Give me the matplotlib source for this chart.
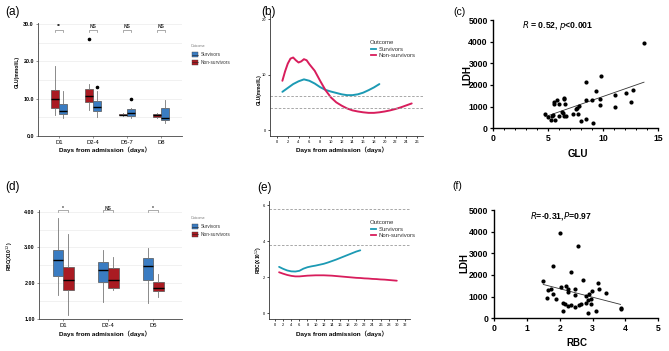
import numpy as np
import matplotlib
matplotlib.use('Agg')
import matplotlib.pyplot as plt
from matplotlib.patches import Rectangle
from matplotlib.lines import Line2D

plt.rcParams['font.family'] = ['Liberation Sans', 'Noto Sans CJK SC', 'DejaVu Sans']

W, H = 669, 351

# ---- data ----
glu_days = ['D1', 'D2-4', 'D5-7', 'D8']
# [whislo, q1, med, q3, whishi]
glu_non = [[5.5, 7.5, 9.8, 12.3, 18.9],
           [7.0, 9.0, 10.7, 12.6, 14.0],
           [5.4, 5.5, 5.7, 5.9, 6.0],
           [4.9, 5.1, 5.5, 5.9, 6.1]]
glu_non_out = [[], [26.0], [], []]
glu_surv = [[4.8, 5.9, 6.7, 8.6, 12.1],
            [5.0, 6.6, 7.8, 9.4, 12.0],
            [4.9, 5.2, 6.1, 7.2, 7.5],
            [3.5, 4.2, 4.8, 7.5, 9.6]]
glu_surv_out = [[], [13.1], [10.0], []]
glu_sig = ['**', 'NS', 'NS', 'NS']

rbc_days = ['D1', 'D2-4', 'D5']
rbc_surv = [[1.66, 2.21, 2.64, 2.94, 3.83],
            [1.47, 2.03, 2.37, 2.59, 2.93],
            [1.44, 2.08, 2.48, 2.70, 2.98]]
rbc_non = [[1.10, 1.80, 2.08, 2.46, 3.39],
           [1.80, 1.87, 2.09, 2.43, 2.73],
           [1.61, 1.79, 1.88, 2.03, 2.27]]
rbc_sig = ['*', 'NS', '*']

# trend curves (b)
glu_surv_day = list(range(1, 20))
glu_surv_val = [6.9, 7.6, 8.3, 8.8, 9.15, 8.9, 8.4, 7.75, 7.25, 6.95, 6.7, 6.45,
                6.3, 6.3, 6.45, 6.75, 7.2, 7.7, 8.3]
glu_non_day = [1, 1.5, 2, 2.5, 3, 3.5, 4, 4.5, 5, 5.5, 6, 7, 8, 9, 10, 11, 12, 13,
               14, 15, 16, 17, 18, 19, 20, 21, 22, 23, 24, 25]
glu_non_val = [8.9, 10.6, 12.0, 12.9, 13.1, 12.6, 12.2, 12.4, 12.8, 12.6, 11.9,
               10.7, 8.9, 7.2, 5.9, 5.0, 4.4, 3.9, 3.55, 3.35, 3.2, 3.1, 3.1,
               3.2, 3.35, 3.55, 3.8, 4.1, 4.45, 4.8]
glu_ref = [6.1, 3.9]

# trend curves (e)
rbc_surv_day = list(range(1, 22))
rbc_surv_val = [2.58, 2.47, 2.38, 2.33, 2.32, 2.36, 2.48, 2.56, 2.61, 2.65, 2.70,
                2.75, 2.82, 2.90, 2.98, 3.07, 3.16, 3.25, 3.34, 3.43, 3.50]
rbc_non_day = list(range(1, 31))
rbc_non_val = [2.28, 2.20, 2.13, 2.08, 2.05, 2.05, 2.07, 2.09, 2.10, 2.11, 2.11,
               2.11, 2.10, 2.09, 2.07, 2.05, 2.03, 2.01, 1.99, 1.97, 1.96, 1.94,
               1.93, 1.91, 1.90, 1.88, 1.87, 1.85, 1.83, 1.81]
rbc_ref = [5.8, 3.8]

# scatter (c)
glu_x = [13.7, 8.4, 9.8, 9.3, 11.1, 12.1, 12.7, 12.5, 11.1, 9.7, 9.7, 9.0, 8.4,
         7.8, 7.6, 7.5, 7.7, 7.2, 6.6, 6.3, 6.4, 6.0, 5.6, 5.2, 5.0, 4.7, 5.4,
         5.5, 5.5, 5.8, 6.0, 6.4, 6.4, 6.5, 8.4, 8.0, 9.1, 5.3, 6.2]
ldh_c = [3950, 2150, 2400, 1700, 1530, 1630, 1760, 1200, 970, 1340, 1090, 1300,
         1320, 1010, 920, 880, 670, 640, 590, 710, 580, 570, 380, 400, 520, 670,
         630, 1130, 1200, 1310, 1110, 1330, 1420, 1130, 450, 320, 230, 560, 760]

# scatter (f)
rbc_x = [2.0, 2.55, 1.8, 2.35, 1.5, 2.7, 3.15, 1.65, 1.72, 2.05, 2.2, 2.25, 2.25,
         2.45, 2.97, 3.2, 3.4, 1.8, 1.6, 1.9, 2.45, 2.8, 2.9, 2.95, 2.1, 2.15,
         2.25, 2.35, 2.45, 2.6, 2.65, 2.8, 2.95, 2.1, 2.85, 3.1, 3.85, 3.85, 2.85]
ldh_f = [3950, 3350, 2400, 2150, 1700, 1760, 1620, 1320, 1330, 1450, 1500, 1350,
         1200, 1330, 1280, 1350, 1190, 1100, 960, 900, 1080, 1020, 1100, 900, 700,
         650, 580, 630, 530, 600, 680, 690, 650, 340, 250, 320, 480, 420, 830]

C_SURV_BOX = '#3a7cc2'
C_NON_BOX = '#aa1b22'
C_SURV_LINE = '#1c9ab4'
C_NON_LINE = '#d81d5c'
XLAB = 'Days from admission（days）'


def px_axes(fig, l, t, r, b):
    return fig.add_axes([l / W, 1 - b / H, (r - l) / W, (b - t) / H])


def ftext(fig, x, y, s, **kw):
    fig.text(x / W, 1 - y / H, s, **kw)


def stats(vals, out):
    lo, q1, med, q3, hi = vals
    return dict(whislo=lo, q1=q1, med=med, q3=q3, whishi=hi, fliers=out)


def box_panel(ax, days, left, right, left_out, right_out, cl, cr, off, wid):
    pos = np.arange(len(days))
    for data, outs, c, sgn in [(left, left_out, cl, -1), (right, right_out, cr, 1)]:
        st = [stats(v, o) for v, o in zip(data, outs)]
        ax.bxp(st, positions=pos + sgn * off, widths=wid, patch_artist=True,
               showcaps=False,
               boxprops=dict(facecolor=c, edgecolor='#555555', linewidth=0.5),
               medianprops=dict(color='black', linewidth=1.0),
               whiskerprops=dict(color='#777777', linewidth=0.6),
               flierprops=dict(marker='o', markersize=1.6, markerfacecolor='black',
                               markeredgecolor='black'))
    ax.set_xticks(pos)
    ax.set_xticklabels(days, fontsize=4.2)
    for s in ['top', 'right']:
        ax.spines[s].set_visible(False)
    for s in ['left', 'bottom']:
        ax.spines[s].set_color('#444444')
        ax.spines[s].set_linewidth(0.6)
    ax.tick_params(axis='both', length=1.5, width=0.5, color='#666666', pad=1.5)
    ax.grid(axis='y', which='both', color='#ececec', linewidth=0.5)
    ax.set_axisbelow(True)
    return pos


def bold_yticks(ax, ticks, labels):
    ax.set_yticks(ticks)
    ax.set_yticklabels(labels, fontsize=3.9, fontweight='bold')


def bracket(ax, x1, x2, y, leg, txt, ty):
    ax.plot([x1, x1, x2, x2], [y - leg, y, y, y - leg], color='#888888',
            linewidth=0.5, clip_on=False)
    ax.text((x1 + x2) / 2, ty, txt, ha='center', va='center', fontsize=3.6,
            color='#333333', fontweight='bold')


def box_legend(fig, x, y0):
    ftext(fig, x, y0, 'Outcome', fontsize=2.6, color='#777777', va='center')
    for i, (lab, c) in enumerate([('Survivors', C_SURV_BOX), ('Non-survivors', C_NON_BOX)]):
        yy = y0 + 8.5 + i * 7.8
        fig.add_artist(Rectangle(((x + 1) / W, 1 - (yy + 2.8) / H), 6 / W, 5.6 / H,
                                 facecolor=c, edgecolor='#444444', linewidth=0.3,
                                 transform=fig.transFigure))
        fig.add_artist(Line2D([(x + 1) / W, (x + 7) / W], [1 - yy / H, 1 - yy / H],
                              color='#222222', linewidth=0.4, transform=fig.transFigure))
        ftext(fig, x + 9.5, yy, lab, fontsize=3.4, color='#333333', va='center')


def line_panel(ax, xmax_tick):
    for s in ['top', 'right']:
        ax.spines[s].set_visible(False)
    for s in ['left', 'bottom']:
        ax.spines[s].set_color('#333333')
        ax.spines[s].set_linewidth(0.6)
    ax.set_xticks(np.arange(0, xmax_tick + 1, 2))
    ax.tick_params(axis='both', length=1.5, width=0.5, labelsize=2.9, pad=1.5)


def line_legend(fig, x, y0):
    ftext(fig, x, y0, 'Outcome', fontsize=4.3, color='#333333', va='center')
    for i, (lab, c) in enumerate([('Survivors', C_SURV_LINE), ('Non-survivors', C_NON_LINE)]):
        yy = y0 + 7.3 + i * 5.8
        fig.add_artist(Line2D([(x + 1) / W, (x + 6) / W], [1 - yy / H, 1 - yy / H],
                              color=c, linewidth=1.3, transform=fig.transFigure))
        ftext(fig, x + 8.5, yy, lab, fontsize=4.3, color='#333333', va='center')


def scatter_panel(ax, x, y, xmax, note, note_x):
    ax.scatter(x, y, s=9, color='black', zorder=3, clip_on=False, linewidths=0)
    k, b = np.polyfit(x, y, 1)
    xs = np.array([min(x), max(x)])
    ax.plot(xs, k * xs + b, color='#333333', linewidth=0.6)
    ax.set_xlim(0, xmax)
    ax.set_ylim(0, 5000)
    ax.set_yticks(np.arange(0, 5001, 1000))
    for s in ['top', 'right']:
        ax.spines[s].set_visible(False)
    for s in ['left', 'bottom']:
        ax.spines[s].set_linewidth(1.0)
    ax.tick_params(axis='both', length=2.5, width=0.9, labelsize=6.2, pad=1.5)
    for lab in ax.get_xticklabels() + ax.get_yticklabels():
        lab.set_fontweight('bold')
    ax.text(note_x, 0.945, note, transform=ax.transAxes, ha='center', va='center',
            fontsize=6.2, fontweight='bold')


fig = plt.figure(figsize=(W / 100, H / 100), dpi=100)

# (a)
ax = px_axes(fig, 38, 22.8, 182, 135.7)
box_panel(ax, glu_days, glu_non, glu_surv, glu_non_out, glu_surv_out,
          C_NON_BOX, C_SURV_BOX, 0.124, 0.24)
ax.set_xlim(-0.62, 3.62)
ax.set_ylim(0, 30.4)
bold_yticks(ax, [0, 10, 20, 30], ['0.0', '10.0', '20.0', '30.0'])
ax.set_yticks([5, 15, 25], minor=True)
ax.tick_params(axis='y', which='minor', length=0)
for i, s in enumerate(glu_sig):
    bracket(ax, i - 0.124, i + 0.124, 28.5, 0.6, s, 29.3 if s == 'NS' else 29.5)
ftext(fig, 17, 72, 'GLU(mmol/L)', rotation=90, fontsize=3.6, fontweight='bold',
      ha='center', va='center')
ftext(fig, 105, 150, XLAB, fontsize=4.6, fontweight='bold', ha='center', va='center')
box_legend(fig, 191, 46)
ftext(fig, 12, 12, '(a)', fontsize=8.5, ha='center', va='center')

# (d)
ax = px_axes(fig, 39, 209.9, 182, 319)
box_panel(ax, rbc_days, rbc_surv, rbc_non, [[]] * 3, [[]] * 3,
          C_SURV_BOX, C_NON_BOX, 0.115, 0.23)
ax.set_xlim(-0.54, 2.64)
ax.set_ylim(1.0, 4.05)
bold_yticks(ax, [1, 2, 3, 4], ['1.00', '2.00', '3.00', '4.00'])
ax.set_yticks([1.5, 2.5, 3.5], minor=True)
ax.tick_params(axis='y', which='minor', length=0)
for i, s in enumerate(rbc_sig):
    bracket(ax, i - 0.115, i + 0.115, 4.04, 0.06, s, 4.09 if s == 'NS' else 4.09)
ftext(fig, 10, 256, 'RBC(X10$^{12}$)', rotation=90, fontsize=3.6, fontweight='bold',
      ha='center', va='center')
ftext(fig, 105, 334, XLAB, fontsize=4.6, fontweight='bold', ha='center', va='center')
box_legend(fig, 191, 218)
ftext(fig, 12, 187, '(d)', fontsize=8.5, ha='center', va='center')

# (b)
ax = px_axes(fig, 270, 14, 423, 136)
ax.plot(glu_surv_day, glu_surv_val, color=C_SURV_LINE, linewidth=1.4,
        solid_capstyle='round')
ax.plot(glu_non_day, glu_non_val, color=C_NON_LINE, linewidth=1.4,
        solid_capstyle='round')
for r in glu_ref:
    ax.axhline(r, color='#9a9a9a', linestyle='--', linewidth=0.6, dashes=(3, 2))
ax.set_xlim(-1.3, 27.1)
ax.set_ylim(-1.08, 20.96)
ax.set_yticks([0, 10, 20])
line_panel(ax, 26)
ftext(fig, 259, 90, 'GLU(mmol/L)', rotation=90, fontsize=3.4, fontweight='bold',
      ha='center', va='center')
ftext(fig, 342, 150, XLAB, fontsize=4.6, fontweight='bold', ha='center', va='center')
line_legend(fig, 370, 42)
ftext(fig, 268, 12, '(b)', fontsize=8.5, ha='center', va='center')

# (e)
ax = px_axes(fig, 269, 200.7, 410, 319)
ax.plot(rbc_surv_day, rbc_surv_val, color=C_SURV_LINE, linewidth=1.3,
        solid_capstyle='round')
ax.plot(rbc_non_day, rbc_non_val, color=C_NON_LINE, linewidth=1.3,
        solid_capstyle='round')
for r in rbc_ref:
    ax.axhline(r, color='#9a9a9a', linestyle='--', linewidth=0.6, dashes=(3, 2))
ax.set_xlim(-1.48, 33.25)
ax.set_ylim(-0.32, 6.26)
ax.set_yticks([0, 2, 4, 6])
line_panel(ax, 32)
ftext(fig, 259, 260, 'RBC(X10$^{12}$)', rotation=90, fontsize=3.4, fontweight='bold',
      ha='center', va='center')
ftext(fig, 342, 334, XLAB, fontsize=4.6, fontweight='bold', ha='center', va='center')
line_legend(fig, 370, 222)
ftext(fig, 264, 188, '(e)', fontsize=8.5, ha='center', va='center')

# (c)
ax = px_axes(fig, 493.3, 20, 658.3, 128.3)
scatter_panel(ax, glu_x, ldh_c, 15, '$\\bf{\\it{R}}$ = 0.52, $\\bf{\\it{p}}$<0.001', 0.39)
ax.set_xticks([0, 5, 10, 15])
ax.set_xticks(np.arange(0, 16, 1), minor=True)
ax.tick_params(axis='x', which='minor', length=1.5, width=0.7)
ftext(fig, 467, 75, 'LDH', rotation=90, fontsize=7, fontweight='bold',
      ha='center', va='center')
ftext(fig, 578, 154, 'GLU', fontsize=7, fontweight='bold', ha='center', va='center')
ftext(fig, 460, 12, '(c)', fontsize=7.5, ha='center', va='center')

# (f)
ax = px_axes(fig, 494, 210, 658.3, 318.3)
scatter_panel(ax, rbc_x, ldh_f, 5, '$\\bf{\\it{R}}$=-0.31,$\\bf{\\it{P}}$=0.97', 0.406)
ax.set_xticks([0, 1, 2, 3, 4, 5])
ftext(fig, 464, 263, 'LDH', rotation=90, fontsize=7, fontweight='bold',
      ha='center', va='center')
ftext(fig, 577, 343, 'RBC', fontsize=7, fontweight='bold', ha='center', va='center')
ftext(fig, 457, 186, '(f)', fontsize=7.5, ha='center', va='center')

fig.savefig('out.png', dpi=100)
